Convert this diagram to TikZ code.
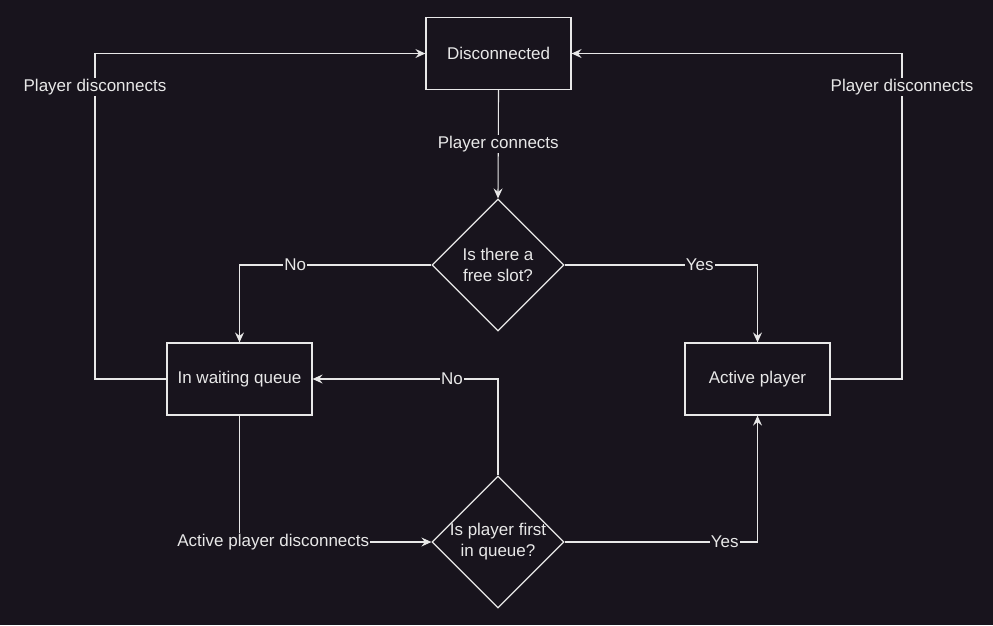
\documentclass[tikz,border=0pt]{standalone}
\usepackage{fontspec}
\setmainfont{Liberation Sans}
\usetikzlibrary{shapes.geometric,arrows.meta}
\definecolor{bg}{HTML}{18141D}
\definecolor{fg}{HTML}{E8E8E8}
\begin{document}
\begin{tikzpicture}[x=1pt,y=-1pt,
  every node/.style={font=\fontsize{17}{21}\selectfont, text=fg},
  box/.style={draw=fg, line width=1.2pt, fill=bg, minimum width=145pt, minimum height=72pt, inner sep=0pt},
  dia/.style={draw=fg, line width=1.2pt, fill=bg, diamond, minimum width=132pt, minimum height=132pt, inner sep=0pt},
  diatext/.style={align=center, inner sep=0pt},
  arr/.style={draw=fg, line width=1.1pt, -{Stealth[length=10pt,width=9pt,inset=3.5pt]}},
  lab/.style={fill=bg, inner sep=1pt}]
\fill[bg] (0,0) rectangle (993,625);
\useasboundingbox (0,0) rectangle (993,625);

\node[box] (dis) at (498.5,53.5) {Disconnected};
\node[dia] (d1) at (498,265) {};
\node[diatext] (d1t) at (d1.center) {Is there a\\free slot?};
\node[box] (wait) at (239.5,379) {In waiting queue};
\node[box] (act) at (757.5,379) {Active player};
\node[dia] (d2) at (498,542) {};
\node[diatext] (d2t) at (d2.center) {Is player first\\in queue?};

\coordinate (lc) at (95,379);
\coordinate (rc) at (902,379);

% loops to Disconnected
\draw[arr] (wait.west) -- (lc) |- (dis.west);
\node[lab] at (95,87) {Player disconnects};
\draw[arr] (act.east) -- (rc) |- (dis.east);
\node[lab] at (902,87) {Player disconnects};

% Disconnected -> d1
\draw[arr] (dis.south) -- node[lab, pos=0.5] {Player connects} (d1.north);

% d1 branches
\draw[arr] (d1.west) -| node[lab, pos=0.355] {No} (wait.north);
\draw[arr] (d1.east) -| node[lab, pos=0.35] {Yes} (act.north);

% waiting -> d2
\draw[arr] (wait.south) |- node[lab, pos=0.588] {Active player disconnects} (d2.west);

% d2 branches
\draw[arr] (d2.north) |- node[lab, pos=0.624] {No} (wait.east);
\draw[arr] (d2.east) -| node[lab, pos=0.415] {Yes} (act.south);
\end{tikzpicture}
\end{document}
